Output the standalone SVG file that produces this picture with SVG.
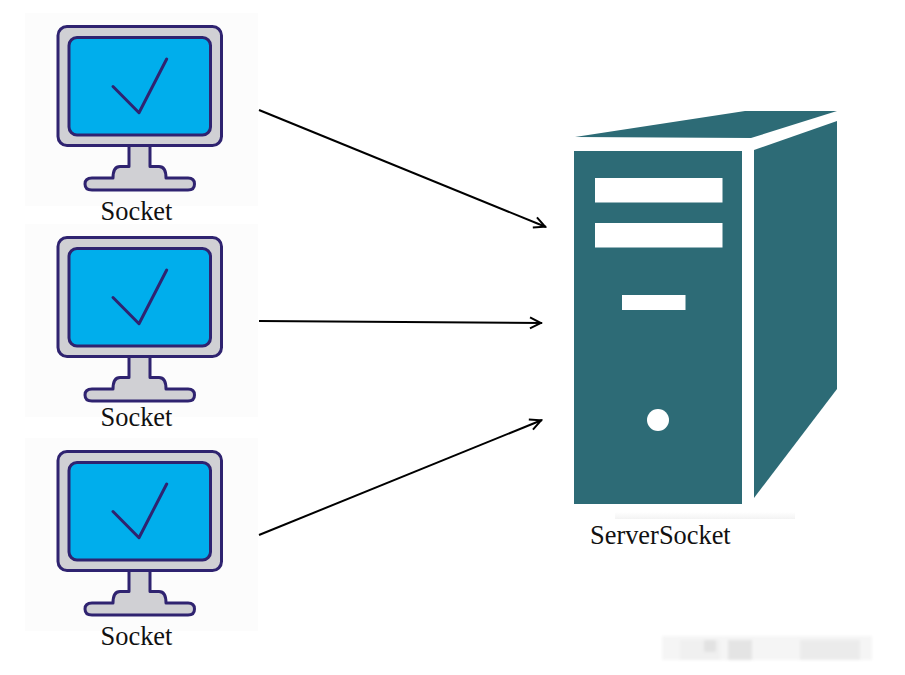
<svg xmlns="http://www.w3.org/2000/svg" width="905" height="675" viewBox="0 0 905 675">
<style>
.panel{fill:#fcfcfc}
.body,.stand{fill:#d0d0d4;stroke:#2f2370;stroke-width:3;stroke-linejoin:round}
.screen{fill:#00aeec;stroke:#2f2370;stroke-width:3}
.tick{fill:none;stroke:#2f2370;stroke-width:3;stroke-linecap:round;stroke-linejoin:round}
.teal{fill:#2d6b76}
.hole{fill:#fff}
text{font-family:"Liberation Serif","Times New Roman",serif;font-size:26.400px;fill:#111}
.conn{fill:none;stroke:#000;stroke-width:2;marker-end:url(#arrow)}
</style>
<defs>
<marker id="arrow" markerUnits="userSpaceOnUse" markerWidth="14" markerHeight="14" refX="13" refY="7" orient="auto">
<path d="M1 1.500L12 7L1 12.500" fill="none" stroke="#000" stroke-width="2"/>
</marker>
<g id="monitor">
<path class="stand" d="M129 145V166.500H120Q113 166.500 113 178H92Q85 178 85 184T92 190H188Q194.500 190 194.500 184T188 178H166Q166 166.500 159 166.500H150V145Z"/>
<rect class="body" x="58" y="26.500" width="163.500" height="119" rx="9"/>
<rect class="screen" x="69" y="37.500" width="141.500" height="97.500" rx="8"/>
<path class="tick" d="M113 86.500L139 112.700L166.700 59"/>
</g>
<linearGradient id="shade" x1="0" y1="0" x2="0" y2="1">
<stop offset="0" stop-color="#fff"/><stop offset="1" stop-color="#f3f3f3"/>
</linearGradient>
<filter id="soft" x="-10%" y="-50%" width="120%" height="200%"><feGaussianBlur stdDeviation="1.500"/></filter>
</defs>
<rect width="905" height="675" fill="#fff"/>
<g id="socket-1">
<rect class="panel" x="25" y="13" width="233" height="193"/>
<use href="#monitor"/>
<text x="136.500" y="220" text-anchor="middle">Socket</text>
</g>
<g id="socket-2">
<rect class="panel" x="25" y="224" width="233" height="193"/>
<use href="#monitor" y="211"/>
<text x="136.500" y="426" text-anchor="middle">Socket</text>
</g>
<g id="socket-3">
<rect class="panel" x="25" y="438" width="233" height="193"/>
<use href="#monitor" y="425"/>
<text x="136.500" y="645" text-anchor="middle">Socket</text>
</g>
<g id="server-socket">
<rect x="615" y="512" width="180" height="7" fill="url(#shade)"/>
<path class="teal" d="M575 137L745 111H837L751 138Z"/>
<path class="teal" d="M754 150L837 121V389L754 498Z"/>
<rect class="teal" x="574" y="151" width="168" height="353"/>
<rect class="hole" x="595" y="178" width="127.500" height="24.500"/>
<rect class="hole" x="595" y="223" width="127.500" height="24.500"/>
<rect class="hole" x="622" y="295" width="63.500" height="15"/>
<circle class="hole" cx="658" cy="420" r="11"/>
<text x="590" y="544">ServerSocket</text>
</g>
<g id="connectors">
<path class="conn" d="M259 110L546 227"/>
<path class="conn" d="M259 321L542 323"/>
<path class="conn" d="M259 535L542 420"/>
</g>
<g filter="url(#soft)">
<rect x="662" y="636" width="210" height="24" fill="#f5f5f5"/>
<rect x="680" y="640" width="40" height="20" fill="#f0f0f0"/>
<rect x="704" y="640" width="12" height="12" fill="#e2e2e2"/>
<rect x="728" y="640" width="24" height="20" fill="#e4e4e4"/>
<rect x="800" y="640" width="60" height="20" fill="#ebebeb"/>
</g>
</svg>
